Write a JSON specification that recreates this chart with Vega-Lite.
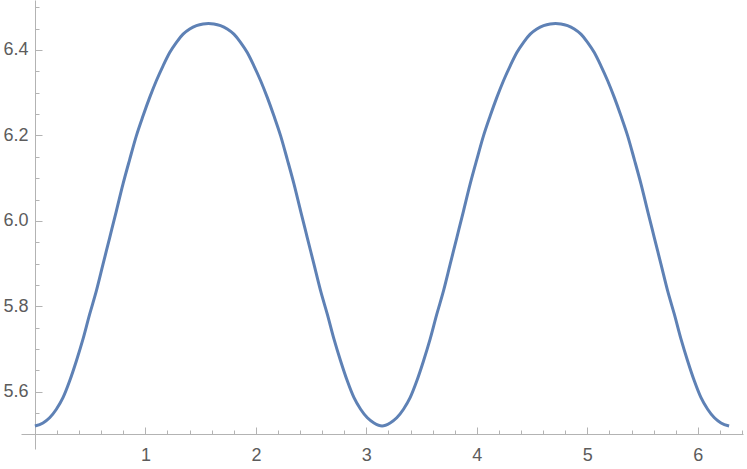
{
  "$schema": "https://vega.github.io/schema/vega-lite/v6.json",
  "width": 722,
  "height": 449,
  "autosize": {"type": "none"},
  "padding": {"left": 21, "top": 0, "right": 4, "bottom": 20},
  "background": "white",
  "config": {"view": {"stroke": null}},
  "data": {"values": [
    {"x": 0.000, "y": 5.520}, {"x": 0.073, "y": 5.527}, {"x": 0.133, "y": 5.539}, {"x": 0.194, "y": 5.559},
    {"x": 0.254, "y": 5.586}, {"x": 0.314, "y": 5.625}, {"x": 0.375, "y": 5.672}, {"x": 0.435, "y": 5.723},
    {"x": 0.495, "y": 5.781}, {"x": 0.556, "y": 5.836}, {"x": 0.616, "y": 5.898}, {"x": 0.677, "y": 5.961},
    {"x": 0.737, "y": 6.023}, {"x": 0.797, "y": 6.086}, {"x": 0.858, "y": 6.144}, {"x": 0.918, "y": 6.199},
    {"x": 0.979, "y": 6.246}, {"x": 1.039, "y": 6.289}, {"x": 1.099, "y": 6.328}, {"x": 1.160, "y": 6.363},
    {"x": 1.220, "y": 6.394}, {"x": 1.281, "y": 6.418}, {"x": 1.341, "y": 6.437}, {"x": 1.401, "y": 6.449},
    {"x": 1.462, "y": 6.457}, {"x": 1.522, "y": 6.461}, {"x": 1.571, "y": 6.462},
    {"x": 1.620, "y": 6.461}, {"x": 1.680, "y": 6.457}, {"x": 1.741, "y": 6.449}, {"x": 1.801, "y": 6.437},
    {"x": 1.861, "y": 6.418}, {"x": 1.922, "y": 6.394}, {"x": 1.982, "y": 6.363}, {"x": 2.043, "y": 6.328},
    {"x": 2.103, "y": 6.289}, {"x": 2.163, "y": 6.246}, {"x": 2.224, "y": 6.199}, {"x": 2.284, "y": 6.144},
    {"x": 2.345, "y": 6.086}, {"x": 2.405, "y": 6.023}, {"x": 2.465, "y": 5.961}, {"x": 2.526, "y": 5.898},
    {"x": 2.586, "y": 5.836}, {"x": 2.647, "y": 5.781}, {"x": 2.707, "y": 5.723}, {"x": 2.767, "y": 5.672},
    {"x": 2.828, "y": 5.625}, {"x": 2.888, "y": 5.586}, {"x": 2.948, "y": 5.559}, {"x": 3.009, "y": 5.539},
    {"x": 3.069, "y": 5.527}, {"x": 3.142, "y": 5.520},
    {"x": 3.215, "y": 5.527}, {"x": 3.275, "y": 5.539}, {"x": 3.336, "y": 5.559}, {"x": 3.396, "y": 5.586},
    {"x": 3.456, "y": 5.625}, {"x": 3.517, "y": 5.672}, {"x": 3.577, "y": 5.723}, {"x": 3.637, "y": 5.781},
    {"x": 3.698, "y": 5.836}, {"x": 3.758, "y": 5.898}, {"x": 3.819, "y": 5.961}, {"x": 3.879, "y": 6.023},
    {"x": 3.939, "y": 6.086}, {"x": 4.000, "y": 6.144}, {"x": 4.060, "y": 6.199}, {"x": 4.121, "y": 6.246},
    {"x": 4.181, "y": 6.289}, {"x": 4.241, "y": 6.328}, {"x": 4.302, "y": 6.363}, {"x": 4.362, "y": 6.394},
    {"x": 4.423, "y": 6.418}, {"x": 4.483, "y": 6.437}, {"x": 4.543, "y": 6.449}, {"x": 4.604, "y": 6.457},
    {"x": 4.664, "y": 6.461}, {"x": 4.712, "y": 6.462},
    {"x": 4.761, "y": 6.461}, {"x": 4.821, "y": 6.457}, {"x": 4.882, "y": 6.449}, {"x": 4.942, "y": 6.437},
    {"x": 5.002, "y": 6.418}, {"x": 5.063, "y": 6.394}, {"x": 5.123, "y": 6.363}, {"x": 5.184, "y": 6.328},
    {"x": 5.244, "y": 6.289}, {"x": 5.304, "y": 6.246}, {"x": 5.365, "y": 6.199}, {"x": 5.425, "y": 6.144},
    {"x": 5.486, "y": 6.086}, {"x": 5.546, "y": 6.023}, {"x": 5.606, "y": 5.961}, {"x": 5.667, "y": 5.898},
    {"x": 5.727, "y": 5.836}, {"x": 5.788, "y": 5.781}, {"x": 5.848, "y": 5.723}, {"x": 5.908, "y": 5.672},
    {"x": 5.969, "y": 5.625}, {"x": 6.029, "y": 5.586}, {"x": 6.089, "y": 5.559}, {"x": 6.150, "y": 5.539},
    {"x": 6.210, "y": 5.527}, {"x": 6.283, "y": 5.520}
  ]},
  "mark": {"type": "line", "color": "#5E81B5", "strokeWidth": 3, "clip": true, "interpolate": "monotone"},
  "encoding": {
    "x": {
      "field": "x", "type": "quantitative",
      "scale": {"domain": [-0.126, 6.409], "nice": false, "zero": false},
      "axis": {
        "title": null, "orient": "bottom", "offset": -15, "grid": false,
        "values": [0.2, 0.4, 0.6, 0.8, 1, 1.2, 1.4, 1.6, 1.8, 2, 2.2, 2.4, 2.6, 2.8, 3, 3.2, 3.4, 3.6, 3.8, 4, 4.2, 4.4, 4.6, 4.8, 5, 5.2, 5.4, 5.6, 5.8, 6, 6.2, 6.4],
        "labelExpr": "abs(datum.value - round(datum.value)) < 0.001 ? format(datum.value, 'd') : ''",
        "domainColor": "#b3b3b3", "domainWidth": 1,
        "tickColor": "#b3b3b3", "tickWidth": 1,
        "tickSize": {"condition": {"test": "abs(datum.value - round(datum.value)) < 0.001", "value": -7}, "value": -4},
        "labelFont": "Liberation Sans", "labelFontSize": 18, "labelColor": "#5c5c5c",
        "labelPadding": 19, "labelFlush": false, "labelOverlap": false
      }
    },
    "y": {
      "field": "y", "type": "quantitative",
      "scale": {"domain": [5.466, 6.517], "nice": false, "zero": false},
      "axis": {
        "title": null, "orient": "left", "offset": -14, "grid": false,
        "values": [5.5, 5.55, 5.6, 5.65, 5.7, 5.75, 5.8, 5.85, 5.9, 5.95, 6.0, 6.05, 6.1, 6.15, 6.2, 6.25, 6.3, 6.35, 6.4, 6.45, 6.5],
        "labelExpr": "abs(datum.value * 5 - round(datum.value * 5)) < 0.001 && datum.value > 5.55 ? format(datum.value, '.1f') : ''",
        "domainColor": "#b3b3b3", "domainWidth": 1,
        "tickColor": "#b3b3b3", "tickWidth": 1,
        "tickSize": {"condition": {"test": "abs(datum.value * 5 - round(datum.value * 5)) < 0.001", "value": -7}, "value": -4},
        "labelFont": "Liberation Sans", "labelFontSize": 18, "labelColor": "#5c5c5c",
        "labelPadding": 14, "labelFlush": false, "labelOverlap": false
      }
    }
  }
}
